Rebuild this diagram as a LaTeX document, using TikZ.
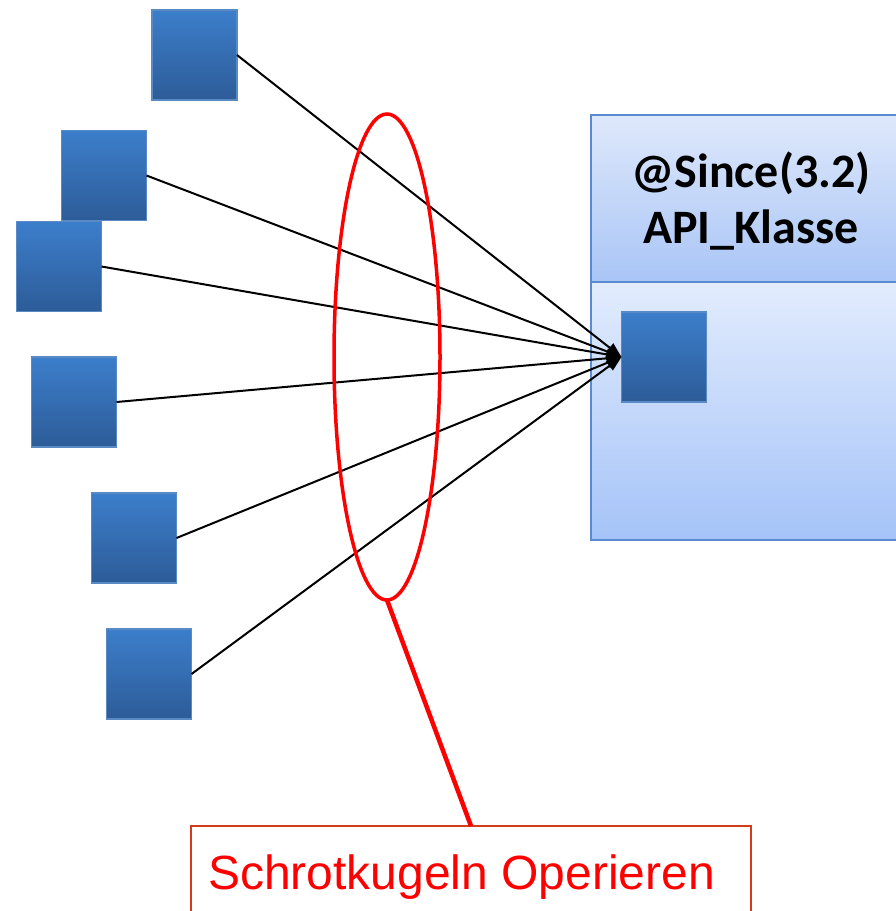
\documentclass[tikz,border=0pt]{standalone}
\usepackage{fontspec}
\newfontfamily\calib{Carlito}
\newfontfamily\arialf{Liberation Sans}
\usetikzlibrary{arrows.meta,shapes.geometric}
\definecolor{sqtop}{HTML}{3C7ECB}
\definecolor{sqbot}{HTML}{2D5C98}
\definecolor{sqedge}{HTML}{5A8AC6}
\definecolor{boxedge}{HTML}{5B8BCF}
\definecolor{hdrtop}{HTML}{DEE8FB}
\definecolor{hdrbot}{HTML}{A9C5F6}
\definecolor{bdytop}{HTML}{E2ECFD}
\definecolor{bdybot}{HTML}{A5C3F8}
\definecolor{labedge}{HTML}{D23C1C}
\tikzset{
  cls/.style={draw=sqedge, line width=1.4pt, top color=sqtop, bottom color=sqbot,
    minimum width=85pt, minimum height=90pt, inner sep=0pt, outer sep=0pt},
  arr/.style={draw=black, line width=2pt, -{Triangle[length=15pt,width=11pt]}},
  panel/.style={draw=boxedge, line width=1.8pt},
  hdrtxt/.style={font=\calib\bfseries\fontsize{48}{56}\selectfont, anchor=base, inner sep=0pt},
}
\begin{document}
\begin{tikzpicture}[x=1pt,y=-1pt]
  \clip (0,0) rectangle (896,911);
  % class box: header and body
  \path[panel, top color=hdrtop, bottom color=hdrbot] (591,115) rectangle (915,282);
  \path[panel, top color=bdytop, bottom color=bdybot] (591,282) rectangle (915,540);
  \node[hdrtxt] (h1) at (751,187) {@Since(3.2)};
  \node[hdrtxt] (h2) at (751,243) {API\_Klasse};
  % target element inside the class
  \node[cls] (t) at (664,357) {};
  % calling elements
  \node[cls] (s1) at (194.5,55) {};
  \node[cls] (s2) at (104,175.5) {};
  \node[cls] (s3) at (59,266.5) {};
  \node[cls] (s4) at (74,402) {};
  \node[cls] (s5) at (134,538) {};
  \node[cls] (s6) at (149,674) {};
  % calls
  \foreach \s in {s1,s2,s3,s4,s5,s6}
    \draw[arr] (\s.east) -- (t.west);
  % grouping ellipse and callout
  \node[draw=red, line width=3.5pt, ellipse, minimum width=106pt, minimum height=486pt,
        inner sep=0pt, outer sep=0pt] (e) at (387,357) {};
  \node[draw=labedge, line width=1.6pt, minimum width=560pt, minimum height=110pt,
        anchor=north west, inner sep=0pt, outer sep=0pt] (lab) at (191,826) {};
  \draw[red, line width=4.5pt] (e.south) -- (lab.north);
  \node[anchor=base west, inner sep=0pt, text=red, font=\arialf\fontsize{48}{56}\selectfont]
    (labtxt) at (208,889) {Schrotkugeln Operieren};
\end{tikzpicture}
\end{document}
